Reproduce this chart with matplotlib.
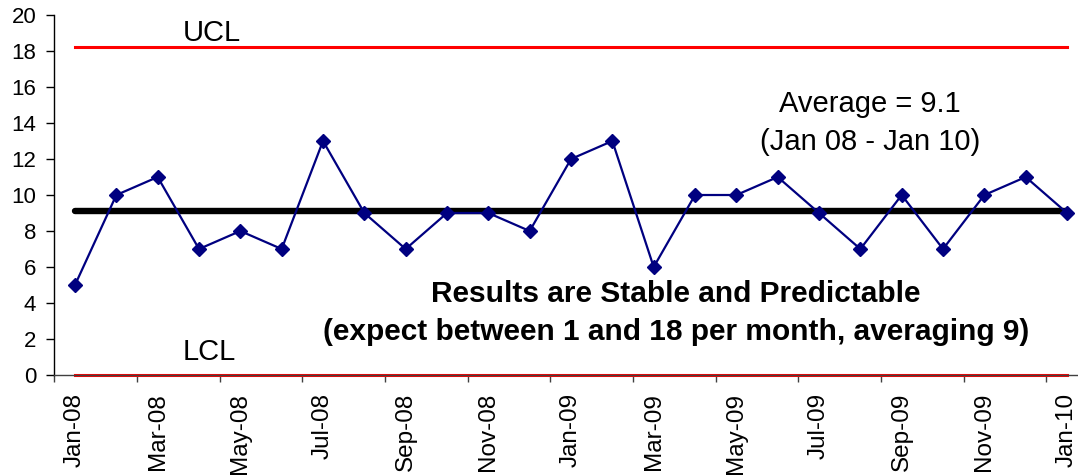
import matplotlib
matplotlib.use("Agg")
import matplotlib.pyplot as plt
from matplotlib.ticker import MultipleLocator, FixedLocator

plt.rcParams['font.family'] = ['Liberation Sans', 'DejaVu Sans']

# Monthly counts, Jan 2008 - Jan 2010
months = ["Jan-08", "Feb-08", "Mar-08", "Apr-08", "May-08", "Jun-08", "Jul-08",
          "Aug-08", "Sep-08", "Oct-08", "Nov-08", "Dec-08", "Jan-09", "Feb-09",
          "Mar-09", "Apr-09", "May-09", "Jun-09", "Jul-09", "Aug-09", "Sep-09",
          "Oct-09", "Nov-09", "Dec-09", "Jan-10"]
values = [5, 10, 11, 7, 8, 7, 13, 9, 7, 9, 9, 8, 12, 13, 6, 10, 10, 11, 9, 7,
          10, 7, 10, 11, 9]

average = 9.1
ucl = 18.2
lcl = 0.0

n = len(months)
x = list(range(n))

fig = plt.figure(figsize=(10.78, 4.75), dpi=100)
ax = fig.add_axes([0.0504, 0.2105, 0.9586, 0.7579])

# Control limits
ax.plot(x, [ucl] * n, color="#ff0000", lw=2.2, zorder=2)
ax.plot(x, [lcl] * n, color="#ff0000", lw=2.2, zorder=2, clip_on=False)
# Process average
ax.plot(x, [average] * n, color="black", lw=4.6, solid_capstyle="round", zorder=3)
# Monthly results
ax.plot(x, values, color="#000080", lw=1.6, marker="D", ms=7.5,
        markerfacecolor="#000080", markeredgecolor="#000080", zorder=4,
        clip_on=False)

ax.set_xlim(-0.5, n - 0.5)
ax.set_ylim(0, 20)

ax.spines["top"].set_visible(False)
ax.spines["right"].set_visible(False)
ax.spines["left"].set_linewidth(1.0)
ax.spines["bottom"].set_linewidth(1.0)
ax.spines["bottom"].set_color("#404040")

ax.yaxis.set_major_locator(MultipleLocator(2))
ax.tick_params(axis="y", direction="out", length=6, width=1, labelsize=16, pad=7)

# Labels on every other month; tick marks on category boundaries
label_pos = x[::2]
ax.xaxis.set_major_locator(FixedLocator(label_pos))
ax.set_xticklabels([months[i] for i in label_pos], rotation=90, fontsize=17.5)
ax.tick_params(axis="x", which="major", length=0, pad=13)
ax.xaxis.set_minor_locator(FixedLocator([p - 0.5 for p in label_pos]))
ax.tick_params(axis="x", which="minor", direction="out", length=5, width=1,
               color="#404040")

ax.text(3.3, 18.57, "UCL", ha="center", va="baseline", fontsize=21)
ax.text(3.25, 0.83, "LCL", ha="center", va="baseline", fontsize=21)
ax.text(19.24, 14.61, "Average = 9.1", ha="center", va="baseline", fontsize=21)
ax.text(19.24, 12.5, "(Jan 08 - Jan 10)", ha="center", va="baseline", fontsize=21)
ax.text(14.54, 4.06, "Results are Stable and Predictable", ha="center",
        va="baseline", fontsize=21.5, fontweight="bold")
ax.text(14.54, 1.94, "(expect between 1 and 18 per month, averaging 9)",
        ha="center", va="baseline", fontsize=21.5, fontweight="bold")

fig.savefig("out.png", dpi=100)
